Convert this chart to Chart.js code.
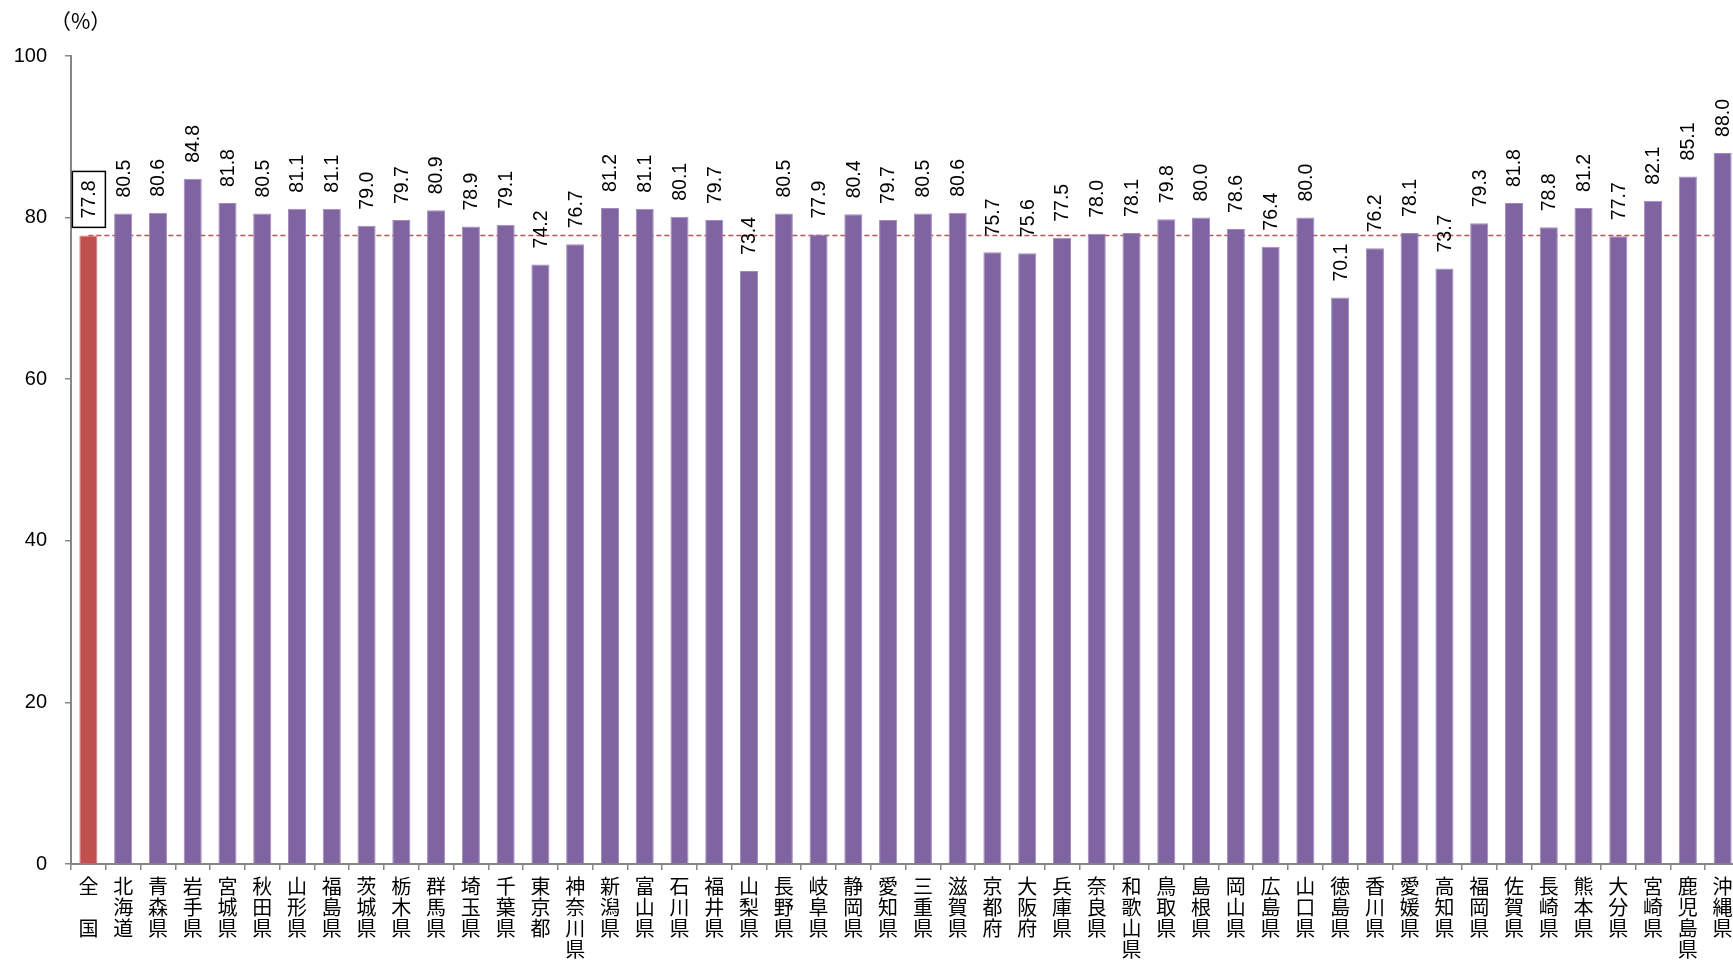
<!DOCTYPE html>
<html>
<head>
<meta charset="utf-8">
<script src="https://cdn.jsdelivr.net/npm/chart.js@4/dist/chart.umd.min.js"></script>
<style>
  html, body { margin: 0; padding: 0; background: #fff; overflow: hidden; }
  #wrap { width: 1740px; height: 961px; }
</style>
</head>
<body>
<div id="wrap"><canvas id="c" width="1740" height="961"></canvas></div>
<script>
// 都道府県名（先頭は全国）
const prefectures = [
  '全国', '北海道', '青森県', '岩手県', '宮城県', '秋田県', '山形県', '福島県',
  '茨城県', '栃木県', '群馬県', '埼玉県', '千葉県', '東京都', '神奈川県',
  '新潟県', '富山県', '石川県', '福井県', '山梨県', '長野県', '岐阜県',
  '静岡県', '愛知県', '三重県', '滋賀県', '京都府', '大阪府', '兵庫県',
  '奈良県', '和歌山県', '鳥取県', '島根県', '岡山県', '広島県', '山口県',
  '徳島県', '香川県', '愛媛県', '高知県', '福岡県', '佐賀県', '長崎県',
  '熊本県', '大分県', '宮崎県', '鹿児島県', '沖縄県'
];

// 割合（%）
const rates = [
  77.8, 80.5, 80.6, 84.8, 81.8, 80.5, 81.1, 81.1,
  79.0, 79.7, 80.9, 78.9, 79.1, 74.2, 76.7,
  81.2, 81.1, 80.1, 79.7, 73.4, 80.5, 77.9,
  80.4, 79.7, 80.5, 80.6, 75.7, 75.6, 77.5,
  78.0, 78.1, 79.8, 80.0, 78.6, 76.4, 80.0,
  70.1, 76.2, 78.1, 73.7, 79.3, 81.8, 78.8,
  81.2, 77.7, 82.1, 85.1, 88.0
];

const nationalRate = rates[0];
const yTicks = [0, 20, 40, 60, 80, 100];

const PURPLE = '#8064A2';
const RED = '#C0504D';

// 縦書きラベル（1文字ずつ改行）
const verticalLabels = prefectures.map(function (name) {
  if (name === '全国') return ['全', '', '国'];
  return name.split('');
});

const barColors = rates.map(function (v, i) { return i === 0 ? RED : PURPLE; });
const barBorders = rates.map(function (v, i) { return i === 0 ? '#d07d7a' : '#a08cbc'; });

// 棒の上に数値を縦向きで描く
const valueLabels = {
  id: 'valueLabels',
  afterDatasetsDraw(chart) {
    const ctx = chart.ctx;
    const meta = chart.getDatasetMeta(0);
    ctx.save();
    ctx.font = '19.5px "Liberation Sans", Arial, sans-serif';
    ctx.fillStyle = '#000';
    ctx.textBaseline = 'middle';
    ctx.textAlign = 'left';
    meta.data.forEach(function (bar, i) {
      const text = rates[i].toFixed(1);
      const x = bar.x;
      const gap = i === 0 ? 17 : 16;
      const y = bar.y - gap;
      ctx.save();
      ctx.translate(x, y);
      ctx.rotate(-Math.PI / 2);
      ctx.fillText(text, 0, 1);
      if (i === 0) {
        const w = ctx.measureText(text).width;
        ctx.lineWidth = 1.5;
        ctx.strokeStyle = '#000';
        ctx.strokeRect(-9, -16, w + 18, 33);
      }
      ctx.restore();
    });
    ctx.restore();
  }
};

// 単位表示
const unitLabel = {
  id: 'unitLabel',
  afterDraw(chart) {
    const ctx = chart.ctx;
    ctx.save();
    ctx.font = '21px "Noto Sans CJK JP", sans-serif';
    ctx.fillStyle = '#000';
    ctx.textBaseline = 'middle';
    ctx.textAlign = 'left';
    ctx.fillText('（%）', 50, 21);
    ctx.restore();
  }
};

new Chart(document.getElementById('c'), {
  type: 'bar',
  data: {
    labels: verticalLabels,
    datasets: [
      {
        type: 'bar',
        data: rates,
        backgroundColor: barColors,
        borderColor: barBorders,
        borderWidth: 1,
        barPercentage: 0.52,
        categoryPercentage: 1.0,
        order: 1
      },
      {
        type: 'line',
        data: rates.map(function () { return nationalRate; }),
        borderColor: RED,
        borderWidth: 1.5,
        borderDash: [5, 3],
        pointRadius: 0,
        fill: false,
        order: 2
      }
    ]
  },
  plugins: [valueLabels, unitLabel],
  options: {
    responsive: false,
    animation: false,
    layout: { padding: { top: 56, right: 0, bottom: 0, left: 0 } },
    plugins: {
      legend: { display: false },
      tooltip: { enabled: false }
    },
    scales: {
      x: {
        offset: true,
        grid: {
          offset: true,
          drawOnChartArea: false,
          drawTicks: true,
          tickLength: 6,
          color: '#868686',
          lineWidth: 1.5
        },
        border: { color: '#868686', width: 2 },
        ticks: {
          autoSkip: false,
          maxRotation: 0,
          minRotation: 0,
          padding: 6,
          color: '#000',
          font: { family: '"Noto Sans CJK JP", sans-serif', size: 20, lineHeight: 1.05 }
        },
        afterFit(scale) { scale.height = 97; }
      },
      y: {
        min: 0,
        max: 100,
        afterBuildTicks(scale) {
          scale.ticks = yTicks.map(function (v) { return { value: v }; });
        },
        grid: {
          drawOnChartArea: false,
          drawTicks: true,
          tickLength: 6,
          color: '#868686',
          lineWidth: 1.5
        },
        border: { color: '#868686', width: 2 },
        ticks: {
          padding: 18,
          color: '#000',
          font: { family: '"Liberation Sans", Arial, sans-serif', size: 20 }
        },
        afterFit(scale) { scale.width = 71; }
      }
    }
  }
});
</script>
</body>
</html>
